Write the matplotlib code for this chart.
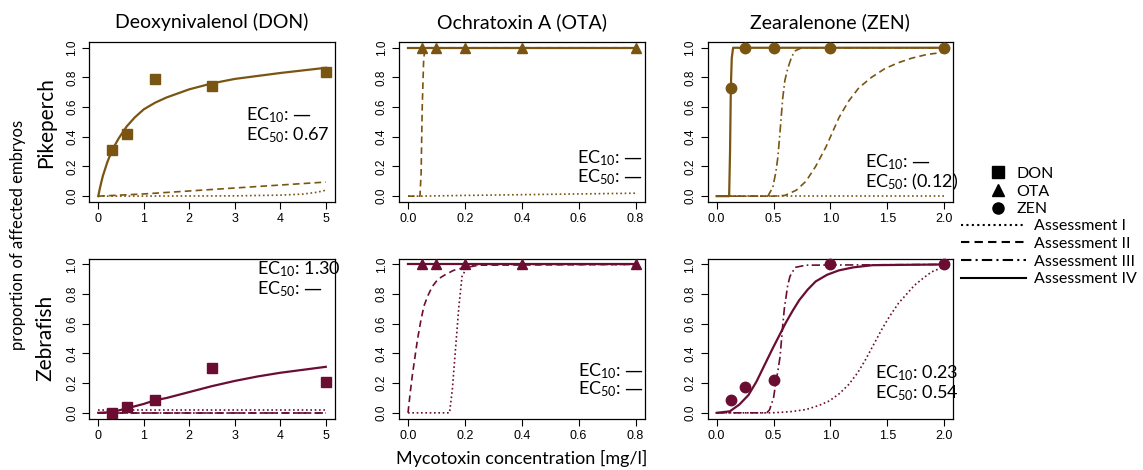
import matplotlib as mpl
mpl.rcParams['figure.dpi'] = 100
mpl.rcParams['mathtext.fontset'] = 'custom'
mpl.rcParams['mathtext.rm'] = 'Lato'
mpl.rcParams['mathtext.it'] = 'Lato:italic'
mpl.rcParams['mathtext.sf'] = 'DejaVu Sans'

import matplotlib.pyplot as plt
from matplotlib.lines import Line2D

# concentrations tested
don_x = [0.3125, 0.625, 1.25, 2.5, 5]
ota_x = [0.05, 0.1, 0.2, 0.4, 0.8]
zen_x = [0.125, 0.25, 0.5, 1.0, 2.0]

# observed proportions
pike_don_y = [0.31, 0.42, 0.79, 0.74, 0.84]
pike_ota_y = [1, 1, 1, 1, 1]
pike_zen_y = [0.73, 1, 1, 1, 1]
zebra_don_y = [0.0, 0.04, 0.085, 0.30, 0.21]
zebra_ota_y = [1, 1, 1, 1, 1]
zebra_zen_y = [0.085, 0.175, 0.22, 1.0, 1.0]

# fitted curves, (x, y)
pike_don_I = [(0, 0), (3, 0.002), (4, 0.007), (4.5, 0.014), (4.8, 0.026), (5, 0.04)]
pike_don_II = [(0, 0), (1, 0.015), (2, 0.035), (3, 0.055), (4, 0.075), (5, 0.095)]
pike_don_IV = [(0, 0), (0.01, 0.015), (0.03, 0.045), (0.06, 0.085), (0.1, 0.135), (0.2, 0.23),
               (0.3125, 0.315), (0.45, 0.39), (0.625, 0.47), (0.8, 0.53), (1, 0.585), (1.25, 0.63),
               (1.5, 0.665), (2, 0.72), (2.5, 0.76), (3, 0.79), (4, 0.83), (5, 0.865)]

pike_ota_I = [(0, 0), (0.04, 0), (0.2, 0.005), (0.4, 0.01), (0.6, 0.015), (0.8, 0.02)]
pike_ota_II = [(0, 0), (0.042, 0), (0.046, 0.15), (0.05, 0.6), (0.055, 0.92), (0.06, 1.0), (0.8, 1.0)]
pike_ota_IV = [(0, 1), (0.8, 1)]

pike_zen_I = [(0, 0), (2, 0)]
pike_zen_II = [(0, 0), (0.5, 0), (0.6, 0.005), (0.7, 0.04), (0.785, 0.10), (0.87, 0.2), (0.96, 0.33),
               (1.076, 0.53), (1.16, 0.64), (1.25, 0.73), (1.36, 0.8), (1.48, 0.86), (1.6, 0.9),
               (1.715, 0.93), (1.85, 0.955), (2.0, 0.97)]
pike_zen_III = [(0, 0), (0.45, 0), (0.494, 0.06), (0.52, 0.16), (0.538, 0.26), (0.558, 0.44),
                (0.581, 0.66), (0.6, 0.78), (0.625, 0.86), (0.66, 0.94), (0.692, 0.98), (0.75, 1.0), (2, 1.0)]
pike_zen_IV = [(0, 0), (0.11, 0), (0.118, 0.3), (0.125, 0.73), (0.133, 0.93), (0.145, 1.0), (2, 1)]

zebra_don_I = [(0, 0.022), (5, 0.022)]
zebra_don_II = [(0, 0), (5, 0)]
zebra_don_III = [(0, 0), (5, 0)]
zebra_don_IV = [(0, 0), (0.3125, 0.005), (0.625, 0.03), (1, 0.06), (1.25, 0.085), (1.5, 0.1),
                (2, 0.14), (2.5, 0.18), (3, 0.215), (3.5, 0.245), (4, 0.27), (4.5, 0.29), (5, 0.31)]

zebra_ota_I = [(0, 0), (0.146, 0), (0.156, 0.16), (0.167, 0.43), (0.179, 0.72), (0.19, 0.92),
               (0.21, 0.99), (0.25, 1.0), (0.8, 1.0)]
zebra_ota_II = [(0, 0), (0.008, 0.14), (0.015, 0.25), (0.033, 0.49), (0.045, 0.62), (0.056, 0.72),
                (0.07, 0.79), (0.085, 0.85), (0.105, 0.9), (0.13, 0.93), (0.16, 0.96), (0.19, 0.975),
                (0.25, 0.995), (0.8, 1.0)]
zebra_ota_IV = [(0, 1), (0.8, 1)]

zebra_zen_I = [(0, 0), (0.49, 0), (0.65, 0.008), (0.785, 0.022), (0.9, 0.05), (0.99, 0.08), (1.08, 0.13),
               (1.16, 0.19), (1.24, 0.27), (1.31, 0.36), (1.38, 0.46), (1.45, 0.56), (1.52, 0.65),
               (1.6, 0.74), (1.67, 0.8), (1.74, 0.86), (1.82, 0.91), (1.89, 0.95), (2, 0.985)]
zebra_zen_III = [(0, 0), (0.44, 0), (0.465, 0.02), (0.5, 0.1), (0.52, 0.2), (0.54, 0.29), (0.558, 0.38),
                 (0.58, 0.58), (0.595, 0.7), (0.61, 0.78), (0.625, 0.86), (0.645, 0.92), (0.69, 0.98),
                 (0.785, 0.995), (2, 1.0)]
zebra_zen_IV = [(0, 0), (0.116, 0.01), (0.2, 0.056), (0.28, 0.12), (0.35, 0.21), (0.42, 0.32),
                (0.49, 0.43), (0.55, 0.52), (0.61, 0.61), (0.67, 0.69), (0.727, 0.76), (0.8, 0.83),
                (0.87, 0.885), (0.97, 0.93), (1.075, 0.96), (1.2, 0.98), (1.37, 0.995), (2, 1.0)]

titles = ["Deoxynivalenol (DON)", "Ochratoxin A (OTA)", "Zearalenone (ZEN)"]
rows = ["Pikeperch", "Zebrafish"]
dash = "$\\mathsf{\u2014}$"
ec_text = [["EC$_{10}$: " + dash, "EC$_{50}$: 0.67"], ["EC$_{10}$: " + dash, "EC$_{50}$: " + dash],
           ["EC$_{10}$: " + dash, "EC$_{50}$: (0.12)"],
           ["EC$_{10}$: 1.30", "EC$_{50}$: " + dash], ["EC$_{10}$: " + dash, "EC$_{50}$: " + dash],
           ["EC$_{10}$: 0.23", "EC$_{50}$: 0.54"]]

brown = "#7a5512"
maroon = "#6b0d33"

ls_I = (0, (1, 1.6))
ls_II = (0, (4, 2.5))
ls_III = (0, (5, 2, 1, 2))
ls_IV = '-'

panels = [
    (don_x, pike_don_y, 's', [(pike_don_I, ls_I), (pike_don_II, ls_II), (pike_don_IV, ls_IV)]),
    (ota_x, pike_ota_y, '^', [(pike_ota_I, ls_I), (pike_ota_II, ls_II), (pike_ota_IV, ls_IV)]),
    (zen_x, pike_zen_y, 'o', [(pike_zen_I, ls_I), (pike_zen_II, ls_II), (pike_zen_III, ls_III), (pike_zen_IV, ls_IV)]),
    (don_x, zebra_don_y, 's', [(zebra_don_I, ls_I), (zebra_don_II, ls_II), (zebra_don_III, ls_III), (zebra_don_IV, ls_IV)]),
    (ota_x, zebra_ota_y, '^', [(zebra_ota_I, ls_I), (zebra_ota_II, ls_II), (zebra_ota_IV, ls_IV)]),
    (zen_x, zebra_zen_y, 'o', [(zebra_zen_I, ls_I), (zebra_zen_III, ls_III), (zebra_zen_IV, ls_IV)]),
]

xmax = [5, 0.8, 2]
xticks = [[0, 1, 2, 3, 4, 5], [0.0, 0.2, 0.4, 0.6, 0.8], [0.0, 0.5, 1.0, 1.5, 2.0]]
xtlab = [["0", "1", "2", "3", "4", "5"], ["0.0", "0.2", "0.4", "0.6", "0.8"],
         ["0.0", "0.5", "1.0", "1.5", "2.0"]]
yticks = [0.0, 0.2, 0.4, 0.6, 0.8, 1.0]

# text position of the EC labels in axes coords
ec_pos = [(0.64, 0.51, 0.385), (0.725, 0.245, 0.125), (0.64, 0.22, 0.095),
          (0.683, 0.90, 0.775), (0.73, 0.267, 0.15), (0.68, 0.255, 0.13)]

fig = plt.figure(figsize=(11.43, 4.70))
lefts = [0.078, 0.349, 0.619]
bottoms = [0.570, 0.109]
W, H = 0.215, 0.341

for i, (px, py, mk, curves) in enumerate(panels):
    r, c = divmod(i, 3)
    col = brown if r == 0 else maroon
    ax = fig.add_axes([lefts[c], bottoms[r], W, H])
    for pts, ls in curves:
        xs = [p[0] for p in pts]
        ys = [p[1] for p in pts]
        lw = 1.6 if ls == '-' else 1.2
        ax.plot(xs, ys, color=col, ls=ls, lw=lw, zorder=2)
    ax.plot(px, py, ls='none', marker=mk, ms=7.5, color=col, zorder=3, clip_on=False)
    pad = xmax[c] * 0.04
    ax.set_xlim(-pad, xmax[c] + pad)
    ax.set_ylim(-0.04, 1.04)
    ax.set_xticks(xticks[c])
    ax.set_xticklabels(xtlab[c], fontsize=9, family='Liberation Sans')
    ax.set_yticks(yticks)
    ax.set_yticklabels([f"{v:.1f}" for v in yticks], fontsize=8.5, family='Liberation Sans',
                       rotation=90, va='center')
    ax.tick_params(direction='out', length=5, width=0.8, pad=3)
    for s in ax.spines.values():
        s.set_linewidth(0.9)
    ex, ey1, ey2 = ec_pos[i]
    ax.text(ex, ey1, ec_text[i][0], transform=ax.transAxes, fontsize=13, family='Lato', va='baseline')
    ax.text(ex, ey2, ec_text[i][1], transform=ax.transAxes, fontsize=13, family='Lato', va='baseline')
    if r == 0:
        ax.set_title(titles[c], fontsize=14, family='Lato', pad=10)

fig.text(0.040, 0.740, rows[0], rotation=90, ha='center', va='center', fontsize=15, family='Lato')
fig.text(0.040, 0.280, rows[1], rotation=90, ha='center', va='center', fontsize=15, family='Lato')
fig.text(0.016, 0.50, "proportion of affected embryos", rotation=90, ha='center', va='center',
         fontsize=12, family='Lato')
fig.text(0.456, 0.025, "Mycotoxin concentration [mg/l]", ha='center', va='center',
         fontsize=13, family='Lato')

# legend: markers and line types as two blocks
mk_handles = [Line2D([], [], ls='none', marker='s', color='k', ms=8),
              Line2D([], [], ls='none', marker='^', color='k', ms=8),
              Line2D([], [], ls='none', marker='o', color='k', ms=8)]
mk_labels = ["DON", "OTA", "ZEN"]
ln_handles = [Line2D([], [], ls=ls_I, color='k', lw=1.5),
              Line2D([], [], ls=ls_II, color='k', lw=1.5),
              Line2D([], [], ls=ls_III, color='k', lw=1.5),
              Line2D([], [], ls=ls_IV, color='k', lw=1.5)]
ln_labels = ["Assessment I", "Assessment II", "Assessment III", "Assessment IV"]
fig.legend(mk_handles, mk_labels, loc='upper left', bbox_to_anchor=(0.867, 0.645), frameon=False,
           borderaxespad=0, borderpad=0, handlelength=0.9, handletextpad=0.7, labelspacing=0.22,
           prop={'family': 'Lato', 'size': 11.5})
fig.legend(ln_handles, ln_labels, loc='upper left', bbox_to_anchor=(0.841, 0.534), frameon=False,
           borderaxespad=0, borderpad=0, handlelength=4.05, handletextpad=0.5, labelspacing=0.22,
           prop={'family': 'Lato', 'size': 11.5})

plt.savefig("out.png")
